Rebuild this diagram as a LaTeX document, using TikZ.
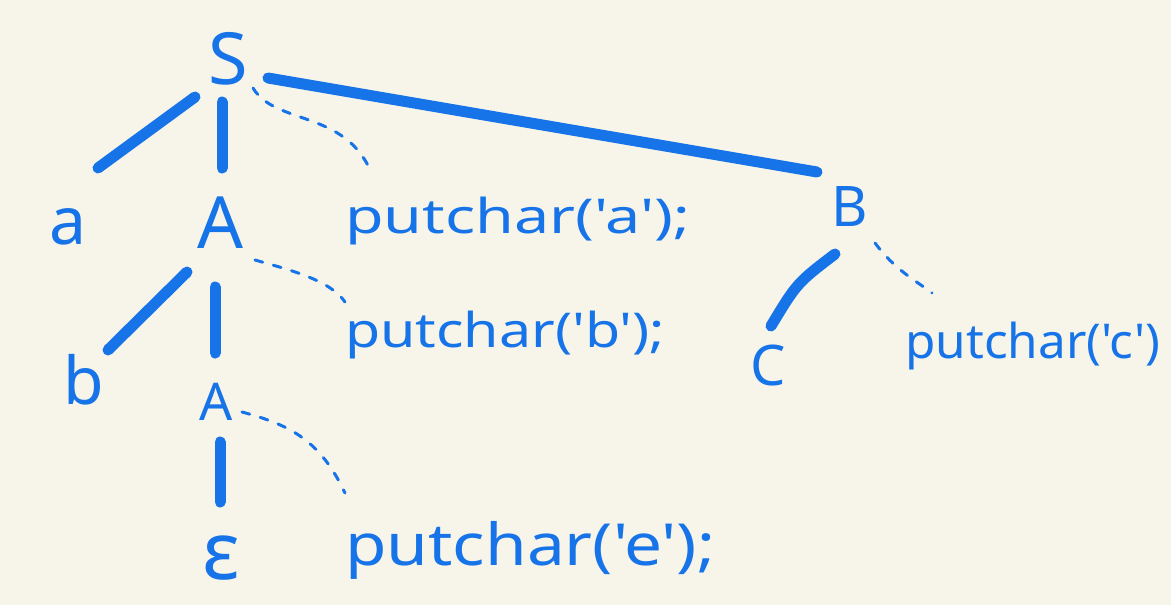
\documentclass[tikz,border=0pt]{standalone}
\usepackage{fontspec}
\setmainfont{Noto Sans}[Ligatures=TeXOff]
\usepackage{graphicx}
\definecolor{ink}{RGB}{22,115,232}
\definecolor{paper}{RGB}{247,245,234}
\newcommand\fitw[2]{\resizebox{#1}{\height}{#2}}
\begin{document}
\begin{tikzpicture}[x=1pt,y=-1pt,
  lbl/.style={text=ink,inner sep=0pt,anchor=base},
  code/.style={text=ink,inner sep=0pt,anchor=base west,font=\fontsize{48}{48}\selectfont},
  edge/.style={draw=ink,line width=11pt,line cap=round},
  dashlink/.style={draw=ink,line width=3pt,line cap=round,dash pattern=on 8pt off 11pt}]
\fill[paper] (0,0) rectangle (1171,605);
\useasboundingbox (0,0) rectangle (1171,605);
% nodes
\node[lbl,font=\fontsize{72}{72}\selectfont] (S) at (228,84) {S};
\node[lbl,font=\fontsize{66}{66}\selectfont] (a) at (68,244) {a};
\node[lbl,font=\fontsize{72}{72}\selectfont] (A1) at (221,248) {A};
\node[code] (pa) at (345,233) {\fitw{345pt}{putchar('a');}};
\node[lbl,font=\fontsize{56}{56}\selectfont] (B) at (850,226) {B};
\node[lbl,font=\fontsize{66}{66}\selectfont] (b) at (84,404) {b};
\node[lbl,font=\fontsize{52}{52}\selectfont] (A2) at (216,420) {A};
\node[code] (pb) at (345,347) {\fitw{320pt}{putchar('b');}};
\node[lbl,font=\fontsize{56}{56}\selectfont] (C) at (768,385) {C};
\node[code] (pc) at (905,358) {\fitw{255pt}{putchar('c')}};
\node[lbl,font=\fontsize{80}{80}\selectfont] (e) at (221,579) {ε};
\node[code,font=\fontsize{58}{58}\selectfont] (pe) at (345,565) {\fitw{370pt}{putchar('e');}};
% connector end points
\coordinate (Sa0) at (195,97);  \coordinate (Sa1) at (98,168);
\coordinate (SA0) at (222,102); \coordinate (SA1) at (222,168);
\coordinate (SB0) at (268,78);  \coordinate (SB1) at (817,172);
\coordinate (Ab0) at (187,272); \coordinate (Ab1) at (108,350);
\coordinate (AA0) at (215,287); \coordinate (AA1) at (215,353);
\coordinate (Ae0) at (220,442); \coordinate (Ae1) at (220,502);
\coordinate (BC0) at (835,254); \coordinate (BC1) at (771,326);
\coordinate (Sp0) at (253,88);  \coordinate (Sp1) at (371,172);
\coordinate (Ap0) at (255,260); \coordinate (Ap1) at (345,302);
\coordinate (Bp0) at (875,243); \coordinate (Bp1) at (932,293);
\coordinate (A2p0) at (242,412); \coordinate (A2p1) at (345,493);
% edges
\draw[edge] (Sa0) -- (Sa1);
\draw[edge] (SA0) -- (SA1);
\draw[edge] (SB0) -- (SB1);
\draw[edge] (Ab0) -- (Ab1);
\draw[edge] (AA0) -- (AA1);
\draw[edge] (Ae0) -- (Ae1);
\draw[edge] (BC0) .. controls (797,283) .. (BC1);
% dashed
\draw[dashlink] (Sp0) .. controls (275,125) and (345,110) .. (Sp1);
\draw[dashlink] (Ap0) .. controls (290,270) and (330,280) .. (Ap1);
\draw[dashlink] (Bp0) .. controls (895,270) and (915,280) .. (Bp1);
\draw[dashlink] (A2p0) .. controls (290,425) and (320,440) .. (A2p1);
\end{tikzpicture}
\end{document}
